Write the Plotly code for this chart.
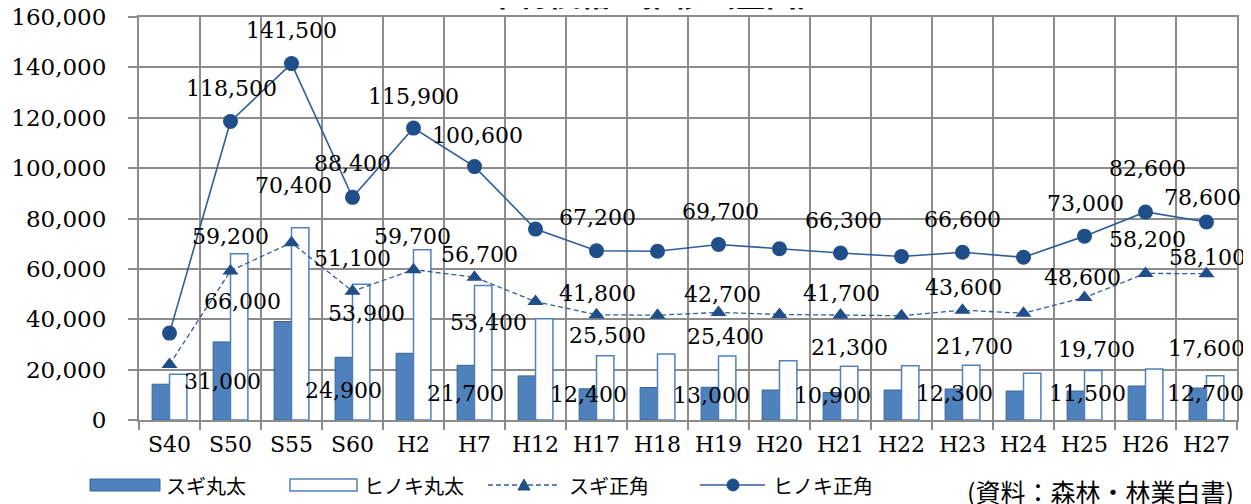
import plotly.graph_objects as go

# ---------------- data ----------------
categories = ["S40", "S50", "S55", "S60", "H2", "H7", "H12", "H17", "H18",
              "H19", "H20", "H21", "H22", "H23", "H24", "H25", "H26", "H27"]
sugi_maruta = [14200, 31000, 39100, 24900, 26500, 21700, 17500, 12400, 12900,
               13000, 11900, 10900, 11900, 12300, 11500, 11500, 13500, 12700]
hinoki_maruta = [18200, 66000, 76300, 53900, 67600, 53400, 40200, 25500, 26200,
                 25400, 23500, 21300, 21500, 21700, 18600, 19700, 20200, 17600]
sugi_kaku = [22000, 59200, 70400, 51100, 59700, 56700, 47000, 41800, 41600,
             42700, 41900, 41700, 41400, 43600, 42400, 48600, 58200, 58100]
hinoki_kaku = [34500, 118500, 141500, 88400, 115900, 100600, 75800, 67200, 67000,
               69700, 68000, 66300, 64900, 66600, 64600, 73000, 82600, 78600]

series_names = ["スギ丸太", "ヒノキ丸太", "スギ正角", "ヒノキ正角"]
title_text = "木材価格の推移（全国）"
source_text = "(資料：森林・林業白書)"

# ---------------- label placement (pixel offsets, style only) ----------------
# index -> (dx, dy) ; dx relative to category centre, dy down-positive from value
hinoki_kaku_lbl = {1: (1, -33), 2: (0, -33), 3: (0, -34), 4: (0, -32), 5: (2.5, -31),
                   7: (1, -33), 9: (2, -33), 11: (3, -33), 13: (0, -33), 15: (0.5, -33),
                   16: (1.5, -43), 17: (-4, -24.5)}
sugi_kaku_lbl = {1: (0, -34), 2: (1.5, -57), 3: (0, -33), 4: (-1, -33), 5: (4.5, -23),
                 7: (0.5, -21), 9: (3.5, -18), 11: (0.5, -21), 13: (1, -23), 15: (-2, -20),
                 16: (2, -34), 17: (1, -16)}
hinoki_maruta_lbl = {1: (11.5, 48), 3: (13.5, 29), 5: (13.5, 37), 7: (10.5, -20),
                     9: (6.5, -20), 11: (8.5, -19), 13: (11.5, -19), 15: (11.5, -21),
                     17: (0, -27)}
sugi_maruta_lbl = {1: (-8.5, 40), 3: (-9.5, 33), 5: (-9.5, 28), 7: (-8.5, 6), 9: (-7.5, 8),
                   11: (-8, 2.5), 13: (-8.5, 4), 15: (2.5, 2), 17: (-1.5, 5)}

# page offset (browser body margin)
OFF = 8
W, H = 1251, 504
PL, PR, PT, PB = 139, 1237, 17, 420       # plot box in page pixels
L, T = PL - OFF, PT - OFF
R, B = W - (PR - OFF), H - (PB - OFF)
PW, PH = PR - PL, PB - PT

BAR_BLUE = "#4f81bd"
BAR_EDGE = "#3a6496"
LINE_BLUE = "#2f5d9b"
MARK_BLUE = "#1f4e89"
GRID = "#8c8c8c"
NUM_FONT = dict(family="DejaVu Serif", size=22, color="black")
JP_FONT = "Noto Sans CJK JP"
DASH = "5px,3px"

fig = go.Figure()
fig.add_bar(x=categories, y=sugi_maruta, name=series_names[0],
            marker=dict(color=BAR_BLUE, line=dict(color=BAR_EDGE, width=1)))
fig.add_bar(x=categories, y=hinoki_maruta, name=series_names[1],
            marker=dict(color="white", line=dict(color=BAR_BLUE, width=1.5)))
fig.add_scatter(x=categories, y=sugi_kaku, name=series_names[2], mode="lines+markers",
                line=dict(color=LINE_BLUE, width=1.3, dash=DASH),
                marker=dict(symbol="triangle-up", size=14, color=MARK_BLUE))
fig.add_scatter(x=categories, y=hinoki_kaku, name=series_names[3], mode="lines+markers",
                line=dict(color=LINE_BLUE, width=1.6),
                marker=dict(symbol="circle", size=15, color=MARK_BLUE))

annotations = []
for vals, lbl in ((hinoki_kaku, hinoki_kaku_lbl), (sugi_kaku, sugi_kaku_lbl),
                  (hinoki_maruta, hinoki_maruta_lbl), (sugi_maruta, sugi_maruta_lbl)):
    for i, (dx, dy) in lbl.items():
        annotations.append(dict(x=categories[i], y=vals[i], xref="x", yref="y",
                                text=f"{vals[i]:,}", showarrow=False,
                                xanchor="center", yanchor="middle",
                                xshift=dx, yshift=-dy, font=NUM_FONT))


def px(xp):
    return (xp - PL) / PW


def py(yp):
    return (PB - yp) / PH


shapes = []
LEG_Y = 485
# legend icons
shapes.append(dict(type="rect", xref="paper", yref="paper", x0=px(90), x1=px(160),
                   y0=py(491), y1=py(479), fillcolor=BAR_BLUE,
                   line=dict(color=BAR_EDGE, width=1)))
shapes.append(dict(type="rect", xref="paper", yref="paper", x0=px(290), x1=px(357),
                   y0=py(491), y1=py(479), fillcolor="white",
                   line=dict(color=BAR_BLUE, width=1.5)))
shapes.append(dict(type="line", xref="paper", yref="paper", x0=px(488), x1=px(560),
                   y0=py(LEG_Y), y1=py(LEG_Y), line=dict(color=LINE_BLUE, width=1.3, dash=DASH)))
tx = 524
shapes.append(dict(type="path", xref="paper", yref="paper",
                   path=f"M {px(tx-6)},{py(LEG_Y+5)} L {px(tx+6)},{py(LEG_Y+5)} L {px(tx)},{py(LEG_Y-6)} Z",
                   fillcolor=MARK_BLUE, line=dict(color=MARK_BLUE, width=1)))
shapes.append(dict(type="line", xref="paper", yref="paper", x0=px(700), x1=px(765),
                   y0=py(LEG_Y), y1=py(LEG_Y), line=dict(color=LINE_BLUE, width=1.6)))
cx = 733
shapes.append(dict(type="circle", xref="paper", yref="paper", x0=px(cx-6), x1=px(cx+6),
                   y0=py(LEG_Y+6), y1=py(LEG_Y-6), fillcolor=MARK_BLUE,
                   line=dict(color=MARK_BLUE, width=1)))

for name, xl in zip(series_names, (164, 362, 567, 771)):
    annotations.append(dict(x=px(xl), y=py(LEG_Y), xref="paper", yref="paper",
                            text=name, showarrow=False, xanchor="left", yanchor="middle",
                            font=dict(family=JP_FONT, size=20, color="black")))
annotations.append(dict(x=px(1236), y=py(491), xref="paper", yref="paper",
                        text=source_text, showarrow=False, xanchor="right", yanchor="middle",
                        font=dict(family=JP_FONT, size=25, color="black")))
annotations.append(dict(x=px(657), y=py(17), xref="paper", yref="paper",
                        text=f"<b>{title_text}</b>", showarrow=False, xanchor="center",
                        yanchor="bottom", font=dict(family=JP_FONT, size=31, color="black")))

fig.update_layout(
    width=W, height=H,
    margin=dict(l=L, r=R, t=T, b=B, pad=0, autoexpand=False),
    paper_bgcolor="white", plot_bgcolor="white",
    barmode="group", bargap=0.43, bargroupgap=0,
    showlegend=False,
    annotations=annotations, shapes=shapes,
)
fig.update_xaxes(type="category", tickson="boundaries", range=[-0.5, 17.5],
                 automargin=False,
                 showgrid=True, gridcolor=GRID, gridwidth=2,
                 ticks="outside", ticklen=8, tickwidth=2, tickcolor=GRID,
                 showline=True, linecolor=GRID, linewidth=2, mirror=True,
                 ticklabelstandoff=4,
                 tickfont=dict(family="DejaVu Serif", size=22, color="black"))
fig.update_yaxes(range=[0, 160000], dtick=20000, tickformat=",",
                 automargin=False, ticklabeloverflow="allow",
                 showgrid=True, gridcolor=GRID, gridwidth=2,
                 ticks="outside", ticklen=9, tickwidth=2, tickcolor=GRID,
                 showline=True, linecolor=GRID, linewidth=2, mirror=True,
                 zeroline=False, ticklabelstandoff=17,
                 tickfont=dict(family="DejaVu Serif", size=23, color="black"))

fig.write_html("out.html")
